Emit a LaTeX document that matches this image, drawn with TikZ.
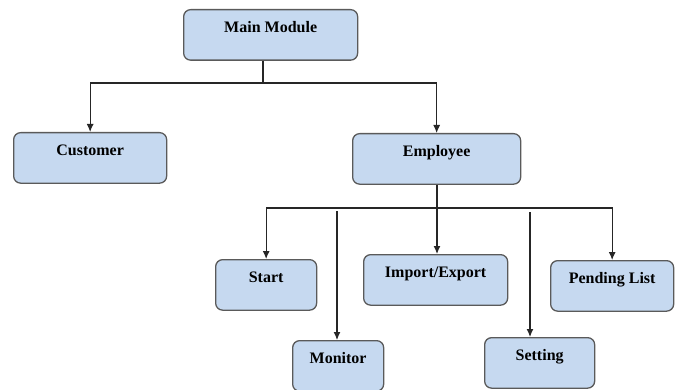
\documentclass[tikz,border=0pt]{standalone}
\usepackage{fontspec}
\setmainfont{Liberation Serif}
\usetikzlibrary{arrows.meta}
\definecolor{boxblue}{RGB}{198,217,240}
\definecolor{boxline}{RGB}{90,90,90}
\tikzset{
	modbox/.style={draw=boxline, line width=1.3pt, fill=boxblue, rounded corners=7pt, anchor=north west,
		inner xsep=0pt, inner ysep=0pt, text height=23pt, text depth=27.5pt, font=\fontsize{16}{19}\selectfont\bfseries},
	link/.style={draw=black!85, line width=1.1pt},
	arr/.style={link, -{Latex[length=8pt,width=7pt]}}
}
\begin{document}
\begin{tikzpicture}[x=1pt,y=-1pt]
		\useasboundingbox (0,0) rectangle (676,390);

		%Modulos
		\node [modbox, minimum width=174pt] (main) at (183,9) {Main Module};
		\node [modbox, minimum width=153pt] (cust) at (13,132) {Customer};
		\node [modbox, minimum width=168pt] (emp) at (352,133) {Employee};
		\node [modbox, minimum width=101pt] (start) at (215,259) {Start};
		\node [modbox, minimum width=91pt] (monitor) at (292,340) {Monitor};
		\node [modbox, minimum width=144pt] (impexp) at (363,254) {Import/Export};
		\node [modbox, minimum width=110pt] (setting) at (484,337) {Setting};
		\node [modbox, minimum width=123pt] (pending) at (550,260) {Pending List};

		%Conexiones
		\coordinate (mbus) at (263,83);
		\draw [link] (main.south -| mbus)--(mbus);
		\draw [arr] (mbus) -| (cust.north);
		\draw [arr] (mbus) -| (emp.north);

		\coordinate (ebus) at (437,208);
		\draw [link] (emp.south -| ebus)--(ebus);
		\draw [arr] (ebus) -| (start.north);
		\draw [arr] (ebus) -| (pending.north);
		\draw [arr] (ebus)--(ebus |- impexp.north);

		\coordinate (montop) at (337,211);
		\coordinate (settop) at (530,212);
		\draw [arr] (montop)--(montop |- monitor.north);
		\draw [arr] (settop)--(settop |- setting.north);
	\end{tikzpicture}
\end{document}
